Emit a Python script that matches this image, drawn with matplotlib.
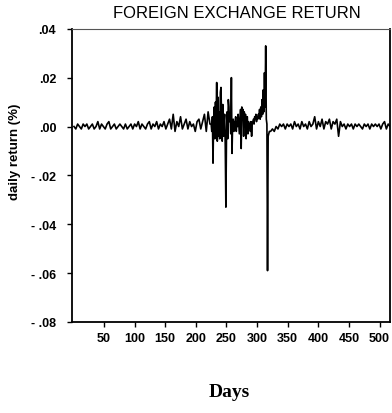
import numpy as np
import matplotlib.pyplot as plt
from matplotlib.ticker import FuncFormatter

# Rendimenti giornalieri (in millesimi)
# tratto tranquillo iniziale, un punto ogni 3 giorni a partire dal giorno 1
ret_left = [0, -1, 1, 0, -1, 1, 0, 1, -1, 0, 1, -1, 0, 2, -1, 1, 0, -1, 1, 2,
            -1, 0, 1, -1, 0, 1, 0, -1, 1, -1, 0, 1, -1, 1, 0, 2, -1, 1, 0, -1,
            1, 2, -1, 1, 0, 2, -1, 1, 0, 2, -1, 1, 3, -1, 5, -2, 2, 0, 4, -1,
            1, 3, -1, 2, 0, 1, -2, 2, 3, -1, 2, 5, -2, 6, 1]

# tratto turbolento, giorno per giorno dal giorno 225
ret_mid = [1, -2, 4, -15, 3, 8, -5, 10, 2, 18, -6, 12, -4, 6, -5, 14, 16, 3, -6, 9,
           -4, 2, 5, -8, -33, -4, 6, -5, 11, 8, 2, 4, -3, 20, -11, 1, 3, -2, 2, 1,
           4, -2, 2, 0, 5, 1, -3, 2, 7, -9, 8, 3, 7, -4, 6, 1, 5, -5, 3, 4,
           -3, 2, 0, 1, -2, 2, -4, 1, 2, 3, 1, 4, 3, 5, 2, 4, 3, 5, 4, 7,
           3, 8, 4, 11, 5, 15, 6, 22, 8, 33, 3, 1, -59, -4, -3, -2, -2]

# tratto tranquillo finale, un punto ogni 3 giorni dal giorno 322
ret_right = [-2, -1, -2, 0, -1, 1, 0, 1, -1, 1, 0, 1, -1, 2, 0, 1, -1, 2, 0, 1,
             -1, 2, 0, 1, 4, -1, 2, 0, 3, -1, 2, 1, 3, -1, 2, 1, 3, -4, 2, 0,
             1, -1, 1, 0, 1, -1, 1, 0, 1, 0, -1, 1, 0, 1, -1, 1, 0, 1, 0, 1,
             -1, 1, 2, -1, 1, 0]

days = np.concatenate([
    1 + 3 * np.arange(len(ret_left)),
    225 + np.arange(len(ret_mid)),
    322 + 3 * np.arange(len(ret_right)),
])
ret = np.concatenate([ret_left, ret_mid, ret_right]) / 1000.0

fig = plt.figure(figsize=(3.92, 4.14), dpi=100)
ax = fig.add_axes([0.184, 0.220, 0.811, 0.708])

ax.plot(days, ret, color="black", linewidth=1.2)

ax.set_xlim(-2, 517)
ax.set_ylim(-0.08, 0.04)
ax.set_xticks(range(50, 501, 50))
ax.set_yticks([0.04, 0.02, 0.0, -0.02, -0.04, -0.06, -0.08])


def fmt_y(v, pos):
    s = f"{abs(v):.2f}".lstrip("0")
    return ("- " + s) if v < -1e-9 else s


ax.yaxis.set_major_formatter(FuncFormatter(fmt_y))
ax.tick_params(direction="out", length=3.5, width=1, labelsize=9)
ax.tick_params(axis="y", pad=8)
ax.tick_params(axis="x", pad=4)
for lab in ax.get_xticklabels() + ax.get_yticklabels():
    lab.set_family("Liberation Sans")
    lab.set_weight("bold")

for side in ["left", "bottom", "right"]:
    ax.spines[side].set_linewidth(1.3)
ax.spines["top"].set_linewidth(0.8)
ax.spines["top"].set_color("#555555")

fig.text(0.605, 0.967, "FOREIGN EXCHANGE RETURN", fontsize=12,
         family="Liberation Sans", ha="center", va="center")
fig.text(0.038, 0.633, "daily return (%)", fontsize=9.5, fontweight="bold",
         family="Liberation Sans", rotation=90, ha="center", va="center")
fig.text(0.585, 0.04, "Days", fontsize=14, fontweight="bold",
         family="Liberation Serif", ha="center")

plt.savefig("out.png", dpi=100)
